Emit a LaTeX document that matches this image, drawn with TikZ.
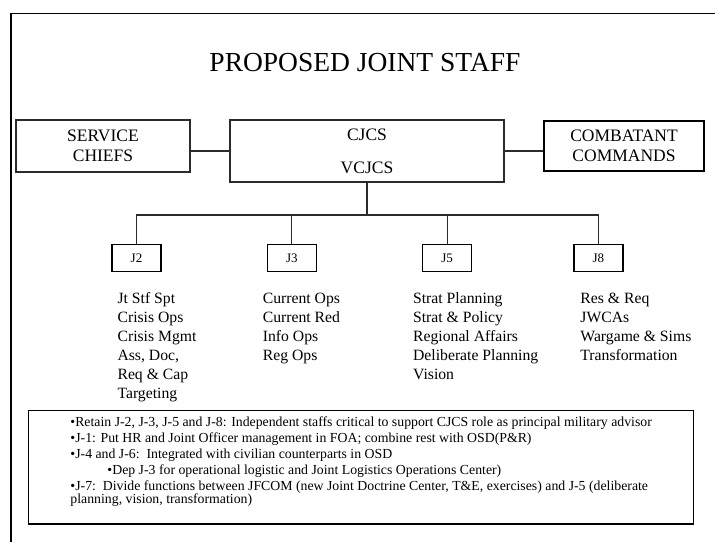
\documentclass[tikz,border=0pt]{standalone}
\usepackage{fontspec}
\setmainfont{Liberation Serif}
\usepackage{tikz}
\usetikzlibrary{positioning}
\definecolor{BoxLine}{HTML}{2B2B2B}
\tikzset{
  unit/.style={rectangle, draw=BoxLine, line width=1.2pt, align=center,
    inner sep=0pt, font=\fontsize{17.5}{20}\selectfont},
  office/.style={rectangle, draw=black, line width=1.3pt,
    minimum width=49pt, minimum height=27pt, inner sep=0pt,
    font=\fontsize{13}{15}\selectfont},
  duties/.style={anchor=north west, align=left, inner sep=0pt,
    font=\fontsize{15.7}{19}\selectfont,
    execute at begin node={\rule{0pt}{12pt}}},
  notes/.style={rectangle, draw=black, line width=1.3pt, anchor=north west,
    align=left, minimum width=665pt, inner xsep=0pt, inner ysep=6.5pt,
    font=\fontsize{13.8}{13}\selectfont},
  link/.style={draw=BoxLine, line width=1.2pt},
  frame/.style={draw=black, line width=1.8pt}
}
\begin{document}
\begin{tikzpicture}[x=1pt, y=-1pt, node distance=22pt and 105pt]
\useasboundingbox (0,0) rectangle (715,542);

\draw[frame] (715,13.5) -- (10.7,13.5) -- (10.7,542);

\node[font=\fontsize{27.5}{30}\selectfont] (title) at (365,63) {PROPOSED JOINT STAFF};

\node[unit, minimum width=274pt, minimum height=62pt] (cjcs) at (367,151) {CJCS\\[13pt]VCJCS};
\node[unit, minimum width=174pt, minimum height=52pt] (chiefs) at (103,146) {SERVICE\\CHIEFS};
\node[unit, draw=black, line width=1.8pt, minimum width=160pt, minimum height=50pt] (commands) at (624,146) {COMBATANT\\COMMANDS};

\node[office] (j2) at (136.5,258) {J2};
\node[office, right=of j2] (j3) {J3};
\node[office, right=of j3] (j5) {J5};
\node[office, right=101pt of j5] (j8) {J8};

\node[duties, below right=20.5pt and 6pt of j2.south west] (j2list) {Jt Stf Spt\\Crisis Ops\\Crisis Mgmt\\Ass, Doc,\\Req \& Cap\\Targeting};
\node[duties, below right=20.5pt and -4pt of j3.south west] (j3list) {Current Ops\\Current Red\\Info Ops\\Reg Ops};
\node[duties, below right=20.5pt and -9pt of j5.south west] (j5list) {Strat Planning\\Strat \& Policy\\Regional Affairs\\Deliberate Planning\\Vision};
\node[duties, below right=20.5pt and 7pt of j8.south west] (j8list) {Res \& Req\\JWCAs\\Wargame \& Sims\\Transformation};

\node[notes] (remarks) at (28,410) {
•Retain J-2, J-3, J-5 and J-8: Independent staffs critical to support CJCS role as principal military advisor\\[3pt]
•J-1: Put HR and Joint Officer management in FOA; combine rest with OSD(P\&R)\\[3pt]
•J-4 and J-6:\ \ Integrated with civilian counterparts in OSD\\[3pt]
\hspace*{37pt}•Dep J-3 for operational logistic and Joint Logistics Operations Center)\\[3pt]
•J-7:\ \ Divide functions between JFCOM (new Joint Doctrine Center, T\&E, exercises) and J-5 (deliberate\\
planning, vision, transformation)\rule[-13.5pt]{0pt}{13.5pt}
};

\coordinate (bus) at (367,215);
\draw[link] (chiefs.east |- cjcs.west) -- (cjcs.west);
\draw[link] (cjcs.east) -- (cjcs.east -| commands.west);
\draw[link] (cjcs.south) -- (bus);
\draw[link] (j2.north) |- (bus) -| (j8.north);
\draw[link] (j3.north) -- (j3.north |- bus);
\draw[link] (j5.north) -- (j5.north |- bus);

\end{tikzpicture}
\end{document}
